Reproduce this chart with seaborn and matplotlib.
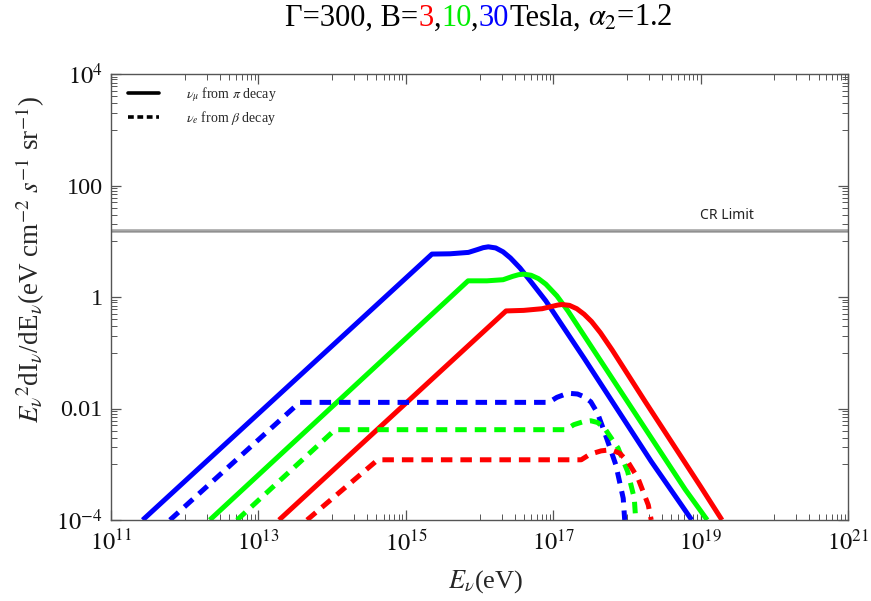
import numpy as np
import pandas as pd
import matplotlib
matplotlib.use("Agg")
import matplotlib.pyplot as plt
import seaborn as sns
from matplotlib.lines import Line2D
from matplotlib.ticker import FixedLocator, FixedFormatter, NullFormatter

# ---------------- data ----------------
# log10(E_nu / eV) and log10(E^2 dI/dE) for each curve
blue_pi_logE = [11.43, 15.355, 15.6, 15.85, 15.97, 16.05, 16.12, 16.22, 16.32, 16.42, 16.55, 16.7, 16.9, 17.42, 18.33, 18.75, 18.88]
blue_pi_logY = [-4.0, 0.77, 0.775, 0.80, 0.85, 0.885, 0.90, 0.88, 0.81, 0.70, 0.52, 0.27, -0.07, -1.10, -2.95, -3.75, -4.0]

green_pi_logE = [12.34, 15.845, 16.1, 16.32, 16.45, 16.53, 16.6, 16.7, 16.8, 16.9, 17.05, 17.2, 17.88, 18.79, 19.09]
green_pi_logY = [-4.0, 0.29, 0.29, 0.31, 0.37, 0.40, 0.41, 0.39, 0.33, 0.23, 0.02, -0.25, -1.62, -3.45, -4.0]

red_pi_logE = [13.28, 16.36, 16.6, 16.85, 16.98, 17.06, 17.12, 17.22, 17.32, 17.42, 17.52, 17.64, 17.8, 18.25, 19.0, 19.29]
red_pi_logY = [-4.0, -0.25, -0.24, -0.21, -0.17, -0.145, -0.135, -0.15, -0.21, -0.31, -0.44, -0.64, -0.95, -1.88, -3.40, -4.0]

blue_beta_logE = [11.80, 13.56, 16.94, 17.05, 17.15, 17.24, 17.33, 17.42, 17.51, 17.6, 17.69, 17.85, 17.95, 17.97]
blue_beta_logY = [-4.0, -1.89, -1.89, -1.80, -1.75, -1.73, -1.74, -1.79, -1.88, -2.08, -2.40, -3.01, -3.61, -4.0]

green_beta_logE = [12.71, 14.04, 17.17, 17.28, 17.4, 17.51, 17.6, 17.69, 17.88, 18.01, 18.10, 18.12]
green_beta_logY = [-4.0, -2.38, -2.38, -2.29, -2.24, -2.22, -2.25, -2.34, -2.71, -3.13, -3.61, -4.0]

red_beta_logE = [13.66, 14.62, 17.38, 17.5, 17.65, 17.78, 17.9, 18.01, 18.15, 18.29, 18.33]
red_beta_logY = [-4.0, -2.92, -2.92, -2.82, -2.76, -2.74, -2.80, -2.95, -3.25, -3.73, -4.0]

cr_limit = 15.0

x_major_exp = [11, 13, 15, 17, 19, 21]
x_tick_labels = [r"$10^{11}$", r"$10^{13}$", r"$10^{15}$", r"$10^{17}$", r"$10^{19}$", r"$10^{21}$"]
y_major_exp = [-4, -2, 0, 2, 4]
y_tick_labels = [r"$10^{-4}$", "0.01", "1", "100", r"$10^{4}$"]

title_parts = ["\u0393=300, B=", "3", ",", "10", ",", "30", "Tesla,", r"$\alpha_2$=1.2"]
title_colors = ["black", "#ff0000", "black", "#00ee00", "black", "#0000ff", "black", "black"]

legend_labels = [r"$\nu_\mu$ from $\pi$ decay", r"$\nu_e$ from $\beta$ decay"]

# ---------------- style ----------------
sns.set_style("ticks")
plt.rcParams["font.family"] = ["Liberation Serif", "DejaVu Serif"]
plt.rcParams["mathtext.fontset"] = "stix"

W, H = 871, 601
fig = plt.figure(figsize=(W / 100, H / 100), dpi=100)
L, R, T, B = 111, 848, 74, 520
ax = fig.add_axes([L / W, 1 - B / H, (R - L) / W, (B - T) / H])

RED, GREEN, BLUE = "#ff0000", "#00ff00", "#0000ff"
LW = 3.6
DASH = (2.3, 1.6)

curves = [
    (blue_pi_logE, blue_pi_logY, BLUE, False),
    (green_pi_logE, green_pi_logY, GREEN, False),
    (red_pi_logE, red_pi_logY, RED, False),
    (blue_beta_logE, blue_beta_logY, BLUE, True),
    (green_beta_logE, green_beta_logY, GREEN, True),
    (red_beta_logE, red_beta_logY, RED, True),
]

ax.set_xscale("log")
ax.set_yscale("log")

for lx, ly, col, dashed in curves:
    df = pd.DataFrame({"E": 10.0 ** np.array(lx), "F": 10.0 ** np.array(ly)})
    n0 = len(ax.lines)
    sns.lineplot(data=df, x="E", y="F", ax=ax, color=col, lw=LW,
                 estimator=None, sort=False, legend=False)
    for ln in ax.lines[n0:]:
        ln.set_solid_capstyle("butt")
        ln.set_solid_joinstyle("round")
        if dashed:
            ln.set_dashes(DASH)
            ln.set_dash_capstyle("butt")

# CR limit line
ax.axhline(cr_limit, color="#a6a6a6", lw=2.6, zorder=1)
ax.axhline(cr_limit, color="#8c8c8c", lw=0.6, zorder=1)
ax.text(10 ** 19.36, 10 ** 1.47, "CR Limit", ha="center", va="center",
        fontsize=10, family=["Noto Sans", "DejaVu Sans"], color="#222222")

ax.set_xlim(1e11, 1e21)
ax.set_ylim(1e-4, 1e4)

# ticks (Mathematica style)
ax.xaxis.set_major_locator(FixedLocator([10.0 ** e for e in x_major_exp]))
ax.xaxis.set_major_formatter(FixedFormatter(x_tick_labels))
xminor = [m * 10.0 ** e for e in range(12, 21, 2) for m in range(1, 10)]
ax.xaxis.set_minor_locator(FixedLocator(xminor))
ax.xaxis.set_minor_formatter(NullFormatter())

ax.yaxis.set_major_locator(FixedLocator([10.0 ** e for e in y_major_exp]))
ax.yaxis.set_major_formatter(FixedFormatter(y_tick_labels))
yminor = [m * 10.0 ** e for e in range(-3, 4, 2) for m in range(1, 10)]
ax.yaxis.set_minor_locator(FixedLocator(yminor))
ax.yaxis.set_minor_formatter(NullFormatter())

ax.tick_params(which="both", direction="in", top=True, right=True,
               color="#555555", labelcolor="#111111", labelsize=17.5)
ax.tick_params(which="major", length=7, width=0.9)
ax.tick_params(axis="x", which="major", pad=7)
ax.tick_params(axis="y", which="major", pad=6)
ax.tick_params(which="minor", length=4, width=0.7)
for sp in ax.spines.values():
    sp.set_color("#555555")
    sp.set_linewidth(1.0)
ax.grid(False)

# axis labels
ax.set_xlabel(r"$E_\nu$(eV)", fontsize=19)
ax.xaxis.set_label_coords((486 - L) / (R - L), -(568 - B) / (B - T))
ax.set_ylabel("")
fig.text(30 / W, 1 - 260 / H,
         r"$E_\nu{}^2$dI$_\nu$/dE$_\nu$(eV cm$^{-2}$ $s^{-1}$ sr$^{-1}$)",
         rotation=90, ha="center", va="center", fontsize=19.5)

# legend
handles = [Line2D([], [], color="black", lw=2.6),
           Line2D([], [], color="black", lw=2.6, dashes=(1.6, 1.0))]
leg = ax.legend(handles, legend_labels, loc="upper left",
                bbox_to_anchor=((128 - L) / (R - L), 1 - (85 - T) / (B - T)),
                frameon=False, fontsize=10, handlelength=2.2,
                handletextpad=2.0, labelspacing=0.4, borderpad=0,
                borderaxespad=0)

# multi-coloured title
renderer = fig.canvas.get_renderer()
ty = 1 - 26 / H
fs = 22
texts = [fig.text(0, ty, s, color=c, fontsize=fs, ha="left", va="baseline")
         for s, c in zip(title_parts, title_colors)]
widths = [t.get_window_extent(renderer).width for t in texts]
gaps = [0] * len(texts)
gaps[6] = fs * 0.25 * 100 / 72  # space after "Tesla,"
total = sum(widths) + sum(gaps)
x = 479 - total / 2
for t, w, g in zip(texts, widths, gaps):
    t.set_x(x / W)
    x += w + g

fig.savefig("out.png", dpi=100)
